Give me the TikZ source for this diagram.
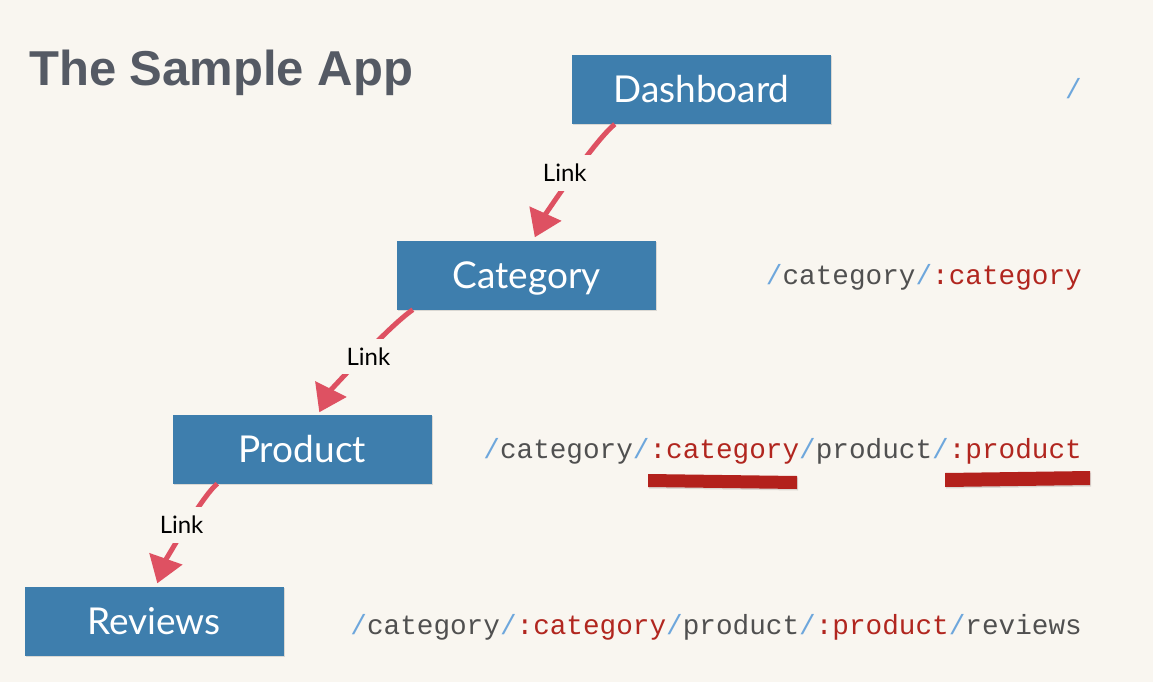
\documentclass[tikz,border=0pt]{standalone}
\usepackage{fontspec}
\usepackage{tikz}
\usetikzlibrary{arrows.meta,shadows}
\setmainfont{Lato}
\newfontfamily\titlefont{Liberation Sans}
\newfontfamily\routefont{Liberation Mono}
\definecolor{pagebg}{HTML}{F9F6F0}
\definecolor{boxblue}{HTML}{3E7EAD}
\definecolor{linkred}{HTML}{DE5162}
\definecolor{slashblue}{HTML}{6EA7DC}
\definecolor{seggray}{HTML}{505050}
\definecolor{varred}{HTML}{B1261F}
\definecolor{barred}{HTML}{B3211C}
\definecolor{titlegray}{HTML}{555A64}
\newcommand{\rsl}{{\color{slashblue}/}}
\newcommand{\rseg}[1]{{\color{seggray}#1}}
\newcommand{\rvar}[1]{{\color{varred}:#1}}

\begin{document}
\begin{tikzpicture}[x=1pt,y=-1pt,
  screen/.style={fill=boxblue,text=white,minimum width=259pt,minimum height=69pt,inner sep=0pt,
    text height=26pt,text depth=0pt,font=\fontsize{37}{40}\selectfont,
    drop shadow={shadow xshift=1.2pt,shadow yshift=-1.5pt,opacity=.25}},
  route/.style={anchor=base east,inner sep=0pt,font=\routefont\fontsize{27.7}{30}\selectfont},
  link/.style={draw=linkred,line width=5pt,-{Triangle[width=34pt,length=26pt]}},
  linklabel/.style={fill=pagebg,inner sep=9pt,text=black,font=\fontsize{24}{26}\selectfont},
  underbar/.style={fill=barred,drop shadow={shadow xshift=1pt,shadow yshift=-1.5pt,opacity=.25}}]
\def\titlesize{\fontsize{49}{52}\selectfont}
\fill[pagebg] (0,0) rectangle (1153,682);

\node[anchor=base west,inner sep=0pt,text=titlegray,font=\titlefont\bfseries\titlesize] (title) at (29,86) {The Sample App};

% SCREENS
\node[screen] (dash) at (701.5,89.5) {Dashboard};
\node[screen] (cat) at (526.5,275) {Category};
\node[screen] (prod) at (302,449) {Product};
\node[screen] (rev) at (154,621) {Reviews};

% LINKS
\draw[link] ([xshift=43pt]dash.south west) .. controls +(-22,18) and +(9,-20) .. ([xshift=138pt,yshift=3pt]cat.north west)
  node[linklabel,pos=.45,xshift=-10pt] (link1) {Link};
\draw[link] ([xshift=16pt]cat.south west) .. controls +(-26,18) and +(10,-20) .. ([xshift=147pt,yshift=2pt]prod.north west)
  node[linklabel,pos=.47,xshift=5pt] (link2) {Link};
\draw[link] ([xshift=45pt]prod.south west) .. controls +(-16,13) and +(7,-20) .. ([xshift=133pt,yshift=3pt]rev.north west)
  node[linklabel,pos=.45,xshift=-6pt] (link3) {Link};

% ROUTES
\node[route] (r1) at (1082,99) {\rsl};
\node[route] (r2) at (1082,284) {\rsl\rseg{category}\rsl\rvar{category}};
\node[route] (r3) at (1082,458) {\rsl\rseg{category}\rsl\rvar{category}\rsl\rseg{product}\rsl\rvar{product}};
\node[route] (r4) at (1082,634) {\rsl\rseg{category}\rsl\rvar{category}\rsl\rseg{product}\rsl\rvar{product}\rsl\rseg{reviews}};

% UNDERLINES
\path[underbar] (648,474) -- (797,476) -- (797,489) -- (648,487) -- cycle;
\path[underbar] (945,473) -- (1090,471) -- (1090,485) -- (945,487) -- cycle;
\end{tikzpicture}
\end{document}
